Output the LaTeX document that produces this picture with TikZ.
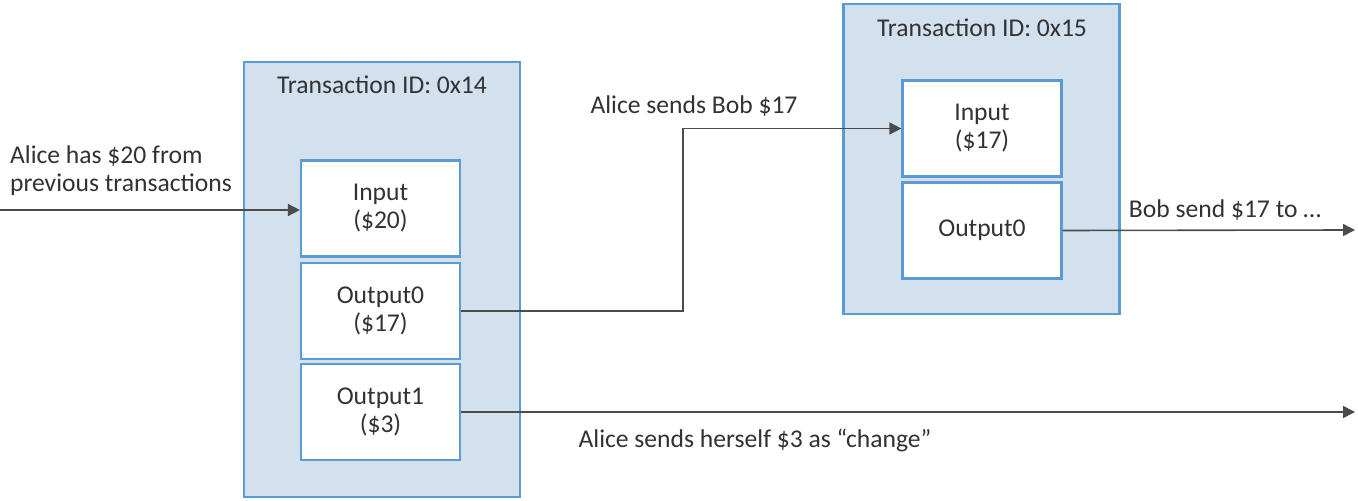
\documentclass[tikz,border=0pt]{standalone}
\usepackage{fontspec}
\setmainfont{Carlito}
\definecolor{boxfill}{RGB}{211, 224, 238}
\definecolor{boxline}{RGB}{91, 155, 213}
\definecolor{wire}{RGB}{75, 75, 75}
\definecolor{textcolor}{RGB}{50, 50, 50}
\usetikzlibrary{positioning,arrows.meta}

\begin{document}
\begin{tikzpicture}[x=0.5pt, y=-0.5pt,
            font=\fontsize{12.8}{14}\selectfont, text=textcolor,
            txbox/.style={
                rectangle, draw=boxline, fill=boxfill, line width=1.1pt,
                minimum width=138pt, inner sep=0pt
            },
            slot/.style={
                rectangle, draw=boxline, fill=white, line width=1.1pt,
                minimum width=79.5pt, minimum height=48pt,
                align=center, inner sep=0pt
            },
            flow/.style={draw=wire, line width=0.8pt, -{Triangle[length=6pt,width=6pt]}},
        ]
            \useasboundingbox (0,0) rectangle (1358,501);

            % transaction 0x14
            \node [txbox, minimum height=217.5pt] (tx14) at (382,279.5) {};
            \node (title14) at (382,85) {Transaction ID: 0x14};
            \node [slot] (in14)   at (380.5,208.5) {Input\\(\$20)};
            \node [slot] (out140) at (380.5,311)   {Output0\\(\$17)};
            \node [slot] (out141) at (380.5,412)   {Output1\\(\$3)};

            % transaction 0x15
            \node [txbox, minimum height=155pt] (tx15) at (981.5,159) {};
            \node (title15) at (982,28) {Transaction ID: 0x15};
            \node [slot] (in15)   at (982,128.5) {Input\\(\$17)};
            \node [slot] (out150) at (982,230.5) {Output0};

            \coordinate (prev) at (0,210);
            \coordinate (bend) at (683,311);
            \coordinate (next) at (1355,230);
            \coordinate (change) at (1355,412);

            \draw[flow] (prev) -- (in14.west |- prev);
            \draw[flow] (out140.east) -- (bend) |- (in15.west);
            \draw[flow] (out150.east) -- (next);
            \draw[flow] (out141.east) -- (change);

            \node [align=left, anchor=west] (has) at (3,171) {Alice has \$20 from\\previous transactions};
            \node (sendbob) at (694,106) {Alice sends Bob \$17};
            \node (bobsend) at (1225,210) {Bob send \$17 to \dots};
            \node (self) at (755,440) {Alice sends herself \$3 as “change”};

        \end{tikzpicture}
\end{document}
